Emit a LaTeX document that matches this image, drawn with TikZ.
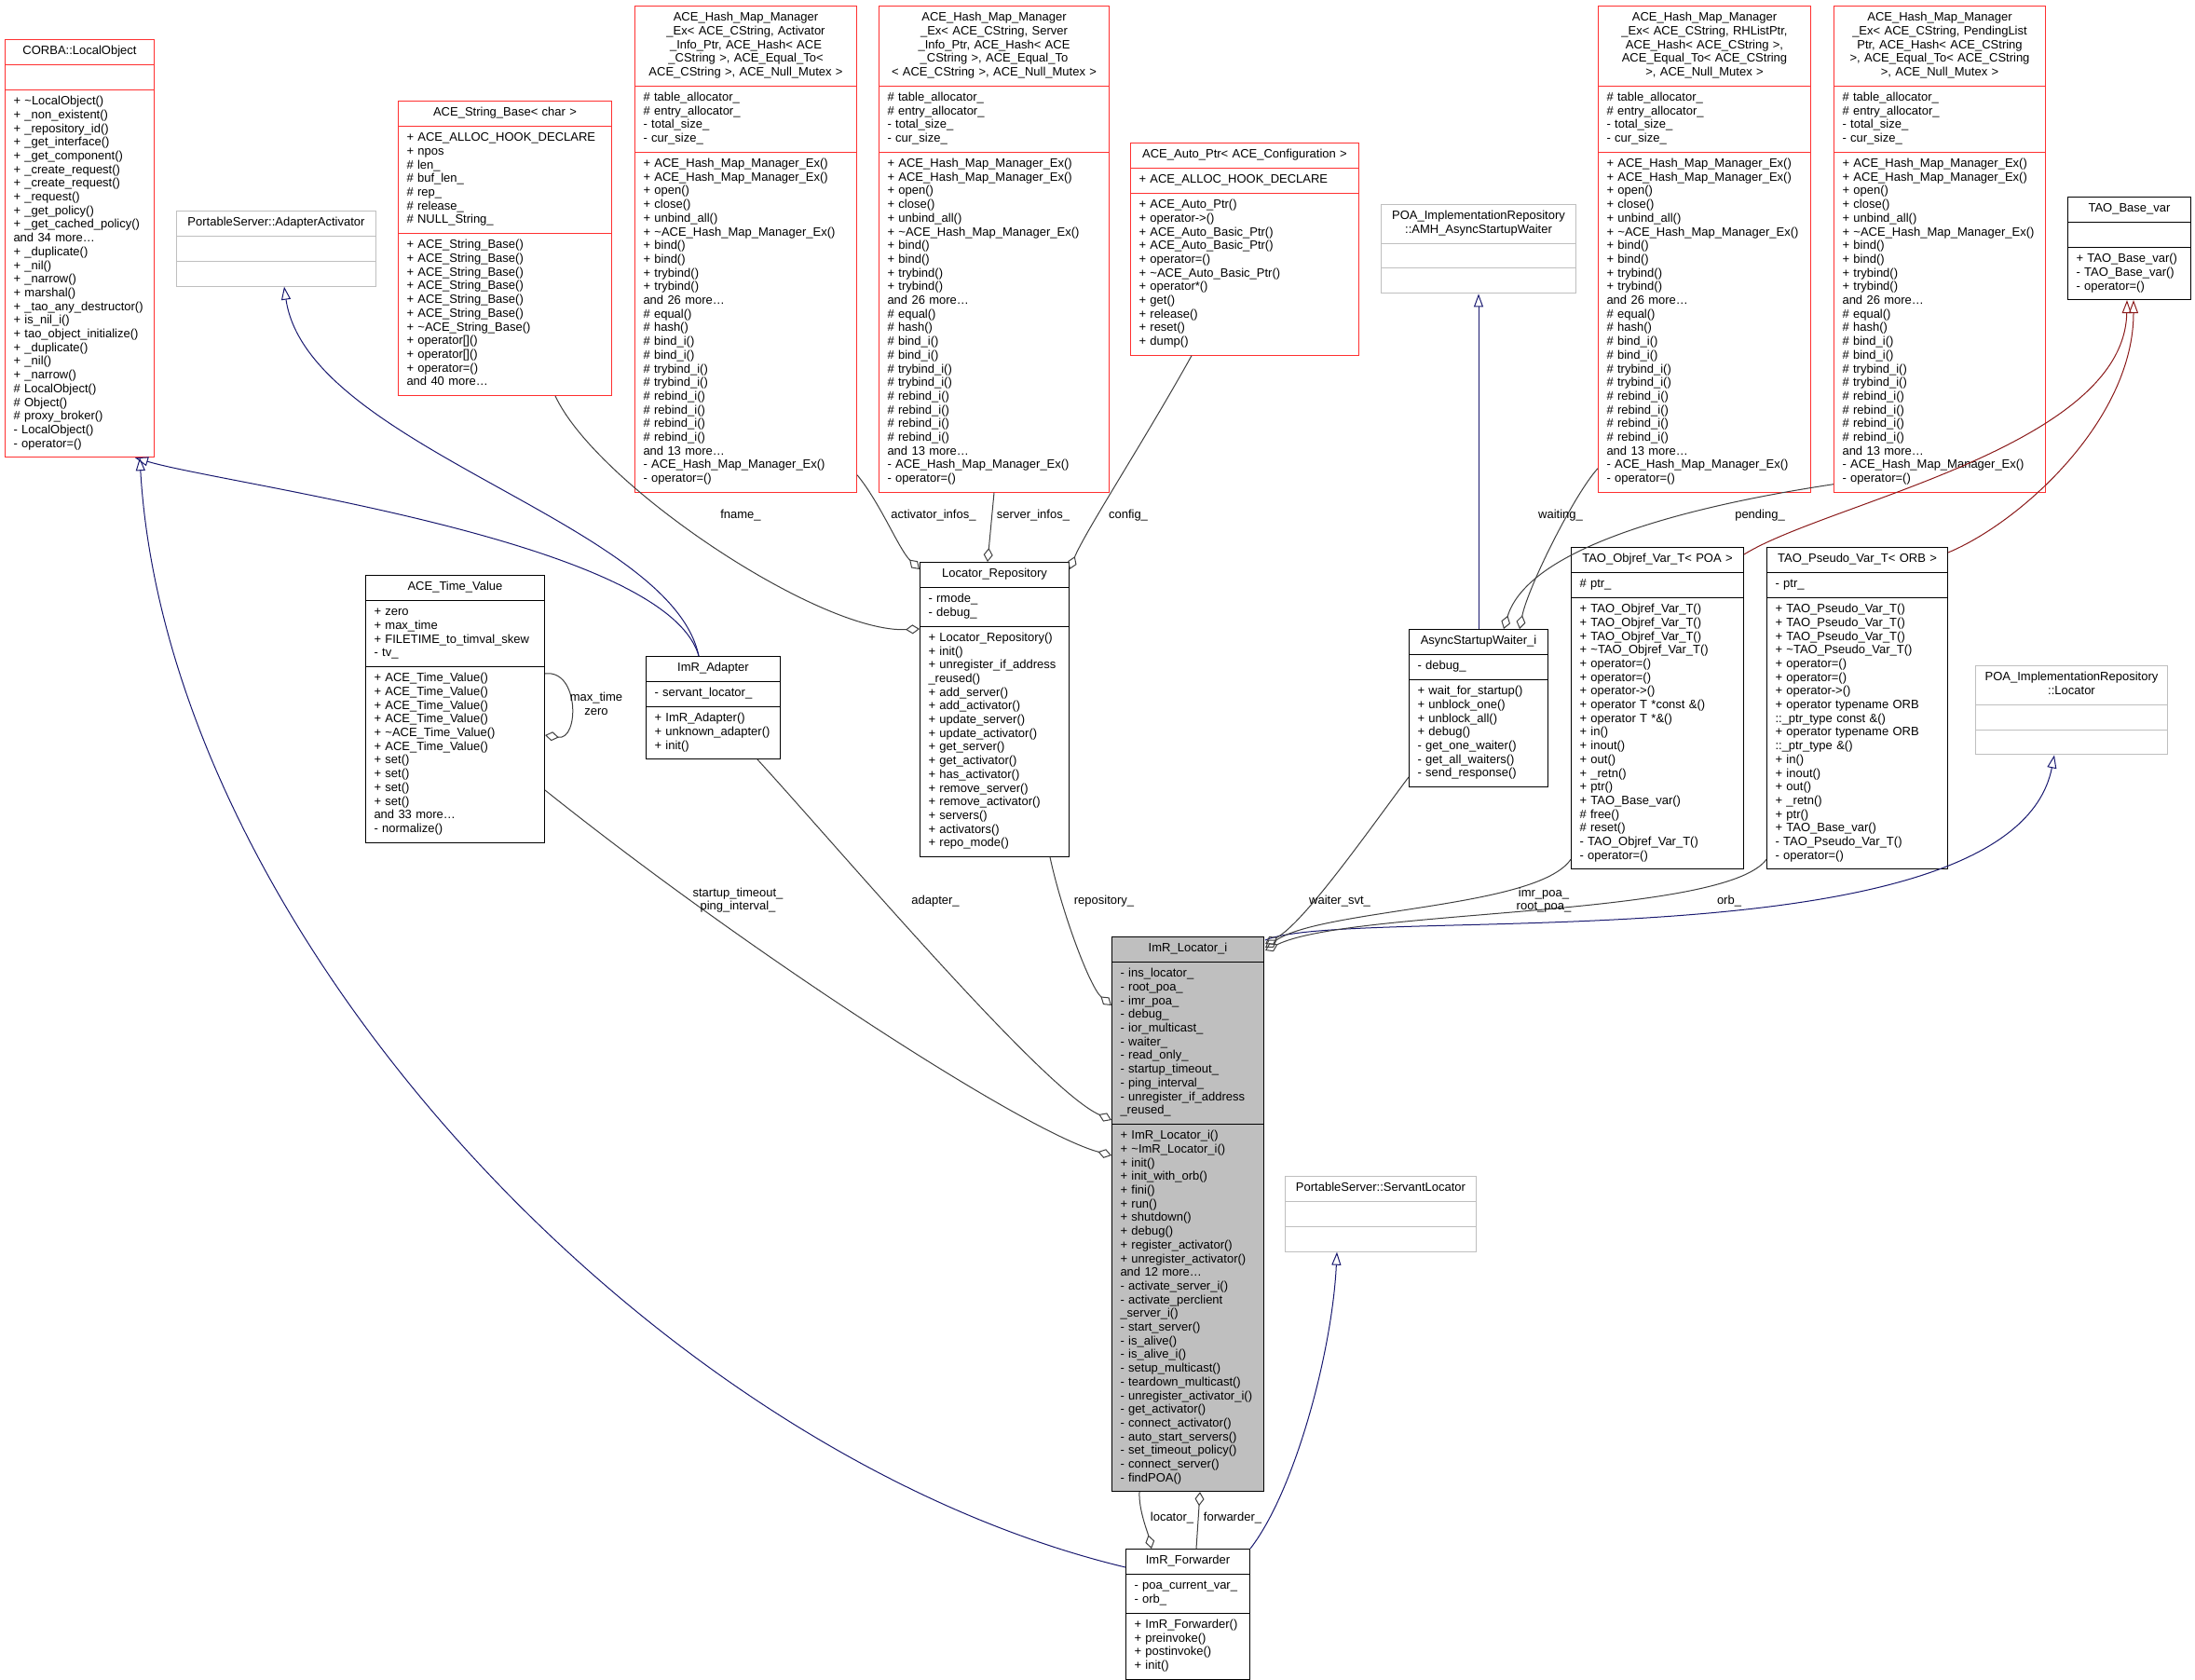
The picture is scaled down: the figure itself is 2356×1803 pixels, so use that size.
\documentclass[tikz,border=0pt]{standalone}
\usepackage{fontspec}
\setmainfont{Liberation Sans}
\usetikzlibrary{arrows.meta,shapes.multipart,calc}
\definecolor{dxred}{RGB}{255,48,48}
\definecolor{dxgrey}{RGB}{191,191,191}
\definecolor{dxnavy}{RGB}{25,25,112}
\definecolor{dxfirebrick}{RGB}{139,26,26}
\definecolor{dxedge}{RGB}{64,64,64}
\newcommand{\umlfont}{\fontsize{13}{14.7}\selectfont}
\newcommand{\clsname}[1]{{\centering\strut#1\strut\par}}
\newcommand{\hashattrs}{\strut\# table\_allocator\_\\\# entry\_allocator\_\\- total\_size\_\\- cur\_size\_\strut}
\newcommand{\hashops}{\strut+ ACE\_Hash\_Map\_Manager\_Ex()\\+ ACE\_Hash\_Map\_Manager\_Ex()\\+ open()\\+ close()\\+ unbind\_all()\\+ \textasciitilde ACE\_Hash\_Map\_Manager\_Ex()\\+ bind()\\+ bind()\\+ trybind()\\+ trybind()\\and 26 more\dots\\\# equal()\\\# hash()\\\# bind\_i()\\\# bind\_i()\\\# trybind\_i()\\\# trybind\_i()\\\# rebind\_i()\\\# rebind\_i()\\\# rebind\_i()\\\# rebind\_i()\\and 13 more\dots\\- ACE\_Hash\_Map\_Manager\_Ex()\\- operator=()\strut}
\tikzset{
  cls/.style={rectangle split, rectangle split parts=3, draw, fill=white,
    line width=1pt, inner xsep=9pt, inner ysep=5.6pt, text width=#1,
    align=left, font=\umlfont, anchor=north west},
  redcls/.style={cls=#1, draw=dxred},
  greycls/.style={cls=#1, draw=dxgrey},
  inh/.style={draw=dxnavy, line width=1pt, -{Triangle[open,length=14pt,width=10pt]}},
  inhpriv/.style={inh, draw=dxfirebrick},
  has/.style={draw=dxedge, line width=1pt, -{Diamond[open,length=15pt,width=10pt]}},
  lbl/.style={font=\umlfont, align=center, inner sep=0pt},
}

\begin{document}
\begin{tikzpicture}[x=1pt,y=-1pt]
\path[use as bounding box, fill=white] (0,0) rectangle (2356,1803);

% classes
\node[redcls=142pt] (lobj) at (5,42) {\clsname{CORBA::LocalObject}
  \nodepart{two}\strut
  \nodepart{three}\strut+ \textasciitilde LocalObject()\\+ \_non\_existent()\\+ \_repository\_id()\\+ \_get\_interface()\\+ \_get\_component()\\+ \_create\_request()\\+ \_create\_request()\\+ \_request()\\+ \_get\_policy()\\+ \_get\_cached\_policy()\\and 34 more\dots\\+ \_duplicate()\\+ \_nil()\\+ \_narrow()\\+ marshal()\\+ \_tao\_any\_destructor()\\+ is\_nil\_i()\\+ tao\_object\_initialize()\\+ \_duplicate()\\+ \_nil()\\+ \_narrow()\\\# LocalObject()\\\# Object()\\\# proxy\_broker()\\- LocalObject()\\- operator=()\strut};
\node[greycls=196pt] (actv) at (189,226) {\clsname{PortableServer::AdapterActivator}
  \nodepart{two}\strut \nodepart{three}\strut};
\node[redcls=211pt] (strb) at (427,108) {\clsname{ACE\_String\_Base< char >}
  \nodepart{two}\strut+ ACE\_ALLOC\_HOOK\_DECLARE\\+ npos\\\# len\_\\\# buf\_len\_\\\# rep\_\\\# release\_\\\# NULL\_String\_\strut
  \nodepart{three}\strut+ ACE\_String\_Base()\\+ ACE\_String\_Base()\\+ ACE\_String\_Base()\\+ ACE\_String\_Base()\\+ ACE\_String\_Base()\\+ ACE\_String\_Base()\\+ \textasciitilde ACE\_String\_Base()\\+ operator[]()\\+ operator[]()\\+ operator=()\\and 40 more\dots\strut};
\node[redcls=220pt] (hmact) at (681,6) {\clsname{ACE\_Hash\_Map\_Manager\\\_Ex< ACE\_CString, Activator\\\_Info\_Ptr, ACE\_Hash< ACE\\\_CString >, ACE\_Equal\_To<\\ ACE\_CString >, ACE\_Null\_Mutex >}
  \nodepart{two}\hashattrs \nodepart{three}\hashops};
\node[redcls=229pt] (hmsrv) at (943,6) {\clsname{ACE\_Hash\_Map\_Manager\\\_Ex< ACE\_CString, Server\\\_Info\_Ptr, ACE\_Hash< ACE\\\_CString >, ACE\_Equal\_To\\< ACE\_CString >, ACE\_Null\_Mutex >}
  \nodepart{two}\hashattrs \nodepart{three}\hashops};
\node[redcls=227pt] (autop) at (1213,153) {\clsname{ACE\_Auto\_Ptr< ACE\_Configuration >}
  \nodepart{two}\strut+ ACE\_ALLOC\_HOOK\_DECLARE\strut
  \nodepart{three}\strut+ ACE\_Auto\_Ptr()\\+ operator->()\\+ ACE\_Auto\_Basic\_Ptr()\\+ ACE\_Auto\_Basic\_Ptr()\\+ operator=()\\+ \textasciitilde ACE\_Auto\_Basic\_Ptr()\\+ operator*()\\+ get()\\+ release()\\+ reset()\\+ dump()\strut};
\node[greycls=191pt] (amh) at (1482,219) {\clsname{POA\_ImplementationRepository\\::AMH\_AsyncStartupWaiter}
  \nodepart{two}\strut \nodepart{three}\strut};
\node[redcls=210pt] (hmrh) at (1715,6) {\clsname{ACE\_Hash\_Map\_Manager\\\_Ex< ACE\_CString, RHListPtr,\\ACE\_Hash< ACE\_CString >,\\ACE\_Equal\_To< ACE\_CString\\>, ACE\_Null\_Mutex >}
  \nodepart{two}\hashattrs \nodepart{three}\hashops};
\node[redcls=209pt] (hmpend) at (1968,6) {\clsname{ACE\_Hash\_Map\_Manager\\\_Ex< ACE\_CString, PendingList\\Ptr, ACE\_Hash< ACE\_CString\\>, ACE\_Equal\_To< ACE\_CString\\>, ACE\_Null\_Mutex >}
  \nodepart{two}\hashattrs \nodepart{three}\hashops};
\node[cls=114pt] (basevar) at (2219,211) {\clsname{TAO\_Base\_var}
  \nodepart{two}\strut
  \nodepart{three}\strut+ TAO\_Base\_var()\\- TAO\_Base\_var()\\- operator=()\strut};
\node[cls=174pt] (timev) at (392,617) {\clsname{ACE\_Time\_Value}
  \nodepart{two}\strut+ zero\\+ max\_time\\+ FILETIME\_to\_timval\_skew\\- tv\_\strut
  \nodepart{three}\strut+ ACE\_Time\_Value()\\+ ACE\_Time\_Value()\\+ ACE\_Time\_Value()\\+ ACE\_Time\_Value()\\+ \textasciitilde ACE\_Time\_Value()\\+ ACE\_Time\_Value()\\+ set()\\+ set()\\+ set()\\+ set()\\and 33 more\dots\\- normalize()\strut};
\node[cls=126pt] (adapt) at (693,704) {\clsname{ImR\_Adapter}
  \nodepart{two}\strut- servant\_locator\_\strut
  \nodepart{three}\strut+ ImR\_Adapter()\\+ unknown\_adapter()\\+ init()\strut};
\node[cls=142pt] (locrep) at (987,603) {\clsname{Locator\_Repository}
  \nodepart{two}\strut- rmode\_\\- debug\_\strut
  \nodepart{three}\strut+ Locator\_Repository()\\+ init()\\+ unregister\_if\_address\\\_reused()\\+ add\_server()\\+ add\_activator()\\+ update\_server()\\+ update\_activator()\\+ get\_server()\\+ get\_activator()\\+ has\_activator()\\+ remove\_server()\\+ remove\_activator()\\+ servers()\\+ activators()\\+ repo\_mode()\strut};
\node[cls=131pt] (asw) at (1512,675) {\clsname{AsyncStartupWaiter\_i}
  \nodepart{two}\strut- debug\_\strut
  \nodepart{three}\strut+ wait\_for\_startup()\\+ unblock\_one()\\+ unblock\_all()\\+ debug()\\- get\_one\_waiter()\\- get\_all\_waiters()\\- send\_response()\strut};
\node[cls=167pt] (objref) at (1686,587) {\clsname{TAO\_Objref\_Var\_T< POA >}
  \nodepart{two}\strut\# ptr\_\strut
  \nodepart{three}\strut+ TAO\_Objref\_Var\_T()\\+ TAO\_Objref\_Var\_T()\\+ TAO\_Objref\_Var\_T()\\+ \textasciitilde TAO\_Objref\_Var\_T()\\+ operator=()\\+ operator=()\\+ operator->()\\+ operator T *const \&()\\+ operator T *\&()\\+ in()\\+ inout()\\+ out()\\+ \_retn()\\+ ptr()\\+ TAO\_Base\_var()\\\# free()\\\# reset()\\- TAO\_Objref\_Var\_T()\\- operator=()\strut};
\node[cls=176pt] (pseudo) at (1896,587) {\clsname{TAO\_Pseudo\_Var\_T< ORB >}
  \nodepart{two}\strut- ptr\_\strut
  \nodepart{three}\strut+ TAO\_Pseudo\_Var\_T()\\+ TAO\_Pseudo\_Var\_T()\\+ TAO\_Pseudo\_Var\_T()\\+ \textasciitilde TAO\_Pseudo\_Var\_T()\\+ operator=()\\+ operator=()\\+ operator->()\\+ operator typename ORB\\::\_ptr\_type const \&()\\+ operator typename ORB\\::\_ptr\_type \&()\\+ in()\\+ inout()\\+ out()\\+ \_retn()\\+ ptr()\\+ TAO\_Base\_var()\\- TAO\_Pseudo\_Var\_T()\\- operator=()\strut};
\node[greycls=188pt] (iloc) at (2120,714) {\clsname{POA\_ImplementationRepository\\::Locator}
  \nodepart{two}\strut \nodepart{three}\strut};
\node[greycls=187pt] (sloc) at (1379,1262) {\clsname{PortableServer::ServantLocator}
  \nodepart{two}\strut \nodepart{three}\strut};
\node[cls=145pt, fill=dxgrey] (locator) at (1193,1005) {\clsname{ImR\_Locator\_i}
  \nodepart{two}\strut- ins\_locator\_\\- root\_poa\_\\- imr\_poa\_\\- debug\_\\- ior\_multicast\_\\- waiter\_\\- read\_only\_\\- startup\_timeout\_\\- ping\_interval\_\\- unregister\_if\_address\\\_reused\_\strut
  \nodepart{three}\strut+ ImR\_Locator\_i()\\+ \textasciitilde ImR\_Locator\_i()\\+ init()\\+ init\_with\_orb()\\+ fini()\\+ run()\\+ shutdown()\\+ debug()\\+ register\_activator()\\+ unregister\_activator()\\and 12 more\dots\\- activate\_server\_i()\\- activate\_perclient\\\_server\_i()\\- start\_server()\\- is\_alive()\\- is\_alive\_i()\\- setup\_multicast()\\- teardown\_multicast()\\- unregister\_activator\_i()\\- get\_activator()\\- connect\_activator()\\- auto\_start\_servers()\\- set\_timeout\_policy()\\- connect\_server()\\- findPOA()\strut};
\node[cls=115pt] (fwd) at (1208,1662) {\clsname{ImR\_Forwarder}
  \nodepart{two}\strut- poa\_current\_var\_\\- orb\_\strut
  \nodepart{three}\strut+ ImR\_Forwarder()\\+ preinvoke()\\+ postinvoke()\\+ init()\strut};

% inheritance
\draw[inh] ($(fwd.north west)+(0,20)$) .. controls (700,1560) and (180,1000) .. ($(lobj.south west)+(145,0)$);
\draw[inh] ($(adapt.north west)+(57,0)$) .. controls (715,580) and (240,520) .. ($(lobj.south west)+(140,0)$);
\draw[inh] ($(adapt.north west)+(57,0)$) .. controls (720,560) and (330,480) .. ($(actv.south west)+(116,0)$);
\draw[inh] ($(asw.north west)+(75,0)$) -- ($(amh.south west)+(105,0)$);
\draw[inh] ($(locator.north east)+(1,4)$) .. controls (1450,970) and (2160,1040) .. ($(iloc.south west)+(85,0)$);
\draw[inh] (fwd.north east) .. controls (1390,1600) and (1430,1450) .. ($(sloc.south west)+(56,0)$);
\draw[inhpriv] ($(objref.north east)+(0,8)$) .. controls (1960,540) and (2280,480) .. ($(basevar.south west)+(64,0)$);
\draw[inhpriv] ($(pseudo.north east)+(0,6)$) .. controls (2170,560) and (2290,450) .. ($(basevar.south west)+(71,0)$);

% members
\draw[has] ($(strb.south west)+(169,0)$) .. controls (640,520) and (880,680) .. ($(locrep.north west)+(0,72)$);
\draw[has] ($(hmact.south east)+(0,-19)$) .. controls (945,540) and (965,590) .. ($(locrep.north west)+(0,8)$);
\draw[has] ($(hmsrv.south west)+(124,0)$) -- ($(locrep.north west)+(73,0)$);
\draw[has] ($(autop.south west)+(66,0)$) .. controls (1230,470) and (1165,570) .. ($(locrep.north east)+(0,8)$);
\draw[has] ($(locrep.south west)+(140,0)$) .. controls (1140,980) and (1170,1060) .. ($(locator.north west)+(0,74)$);
\draw[has] ($(adapt.south west)+(120,0)$) .. controls (900,910) and (1120,1170) .. ($(locator.north west)+(0,197)$);
\draw[has] ($(timev.north east)+(0,231)$) .. controls (800,1020) and (1100,1215) .. ($(locator.north west)+(0,235)$);
\draw[has] ($(timev.north east)+(0,106)$) .. controls (622,718) and (622,795) .. ($(timev.north east)+(0,172)$);
\draw[has] ($(asw.south west)+(0,-11)$) .. controls (1470,890) and (1400,990) .. ($(locator.north east)+(1,8)$);
\draw[has] ($(objref.south west)+(0,-11)$) .. controls (1650,975) and (1420,975) .. ($(locator.north east)+(1,12)$);
\draw[has] ($(pseudo.south west)+(0,-11)$) .. controls (1850,985) and (1450,975) .. ($(locator.north east)+(1,15)$);
\draw[has] ($(hmrh.south west)+(0,-26)$) .. controls (1690,530) and (1640,630) .. ($(asw.north west)+(119,0)$);
\draw[has] ($(hmpend.south west)+(0,-9)$) .. controls (1800,545) and (1640,590) .. ($(asw.north west)+(102,0)$);
\draw[has] ($(locator.south west)+(30,0)$) .. controls (1222,1620) and (1232,1645) .. ($(fwd.north west)+(28,0)$);
\draw[has] ($(fwd.north west)+(76,0)$) -- ($(locator.south west)+(95,0)$);

% edge labels
\node[lbl] (lfname) at (795,553) {fname\_};
\node[lbl] (lactinf) at (1002,553) {activator\_infos\_};
\node[lbl] (lsrvinf) at (1109,553) {server\_infos\_};
\node[lbl] (lconfig) at (1211,553) {config\_};
\node[lbl] (lwaiting) at (1675,553) {waiting\_};
\node[lbl] (lpending) at (1889,553) {pending\_};
\node[lbl] (lmaxtime) at (640,755) {max\_time\\zero};
\node[lbl] (lstartup) at (792,966) {startup\_timeout\_\\ping\_interval\_};
\node[lbl] (ladapter) at (1004,967) {adapter\_};
\node[lbl] (lrepo) at (1185,967) {repository\_};
\node[lbl] (lwaiter) at (1438,967) {waiter\_svt\_};
\node[lbl] (lpoa) at (1657,966) {imr\_poa\_\\root\_poa\_};
\node[lbl] (lorb) at (1856,967) {orb\_};
\node[lbl] (llocator) at (1258,1629) {locator\_};
\node[lbl] (lforward) at (1323,1629) {forwarder\_};
\end{tikzpicture}
\end{document}
